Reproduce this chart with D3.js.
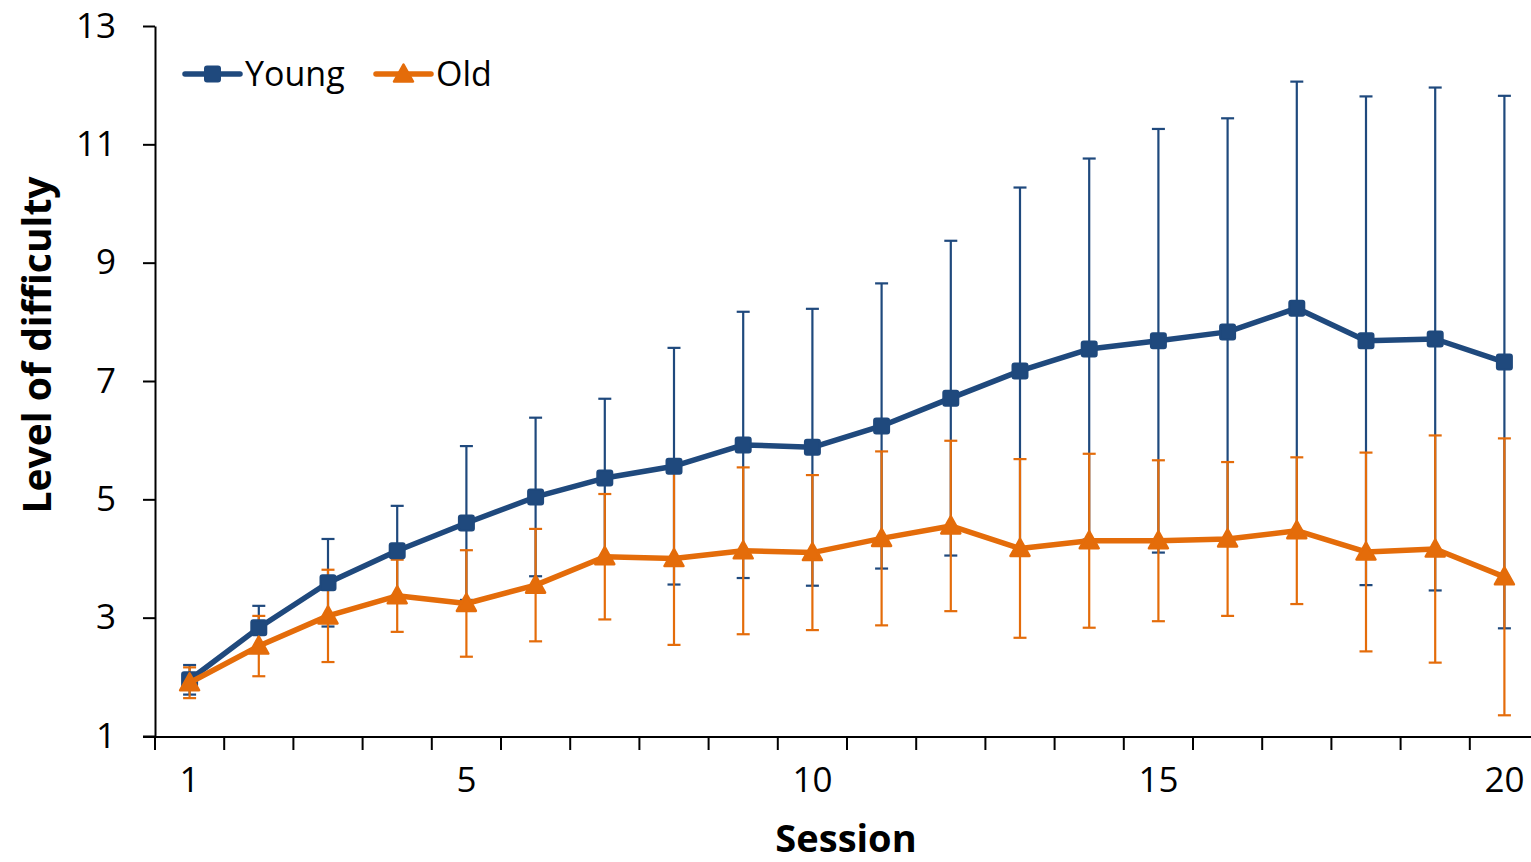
<!DOCTYPE html>
<html>
<head>
<meta charset="utf-8">
<script src="https://cdn.jsdelivr.net/npm/d3@7"></script>
<style>
  html, body { margin: 0; padding: 0; background: #ffffff; }
  svg { display: block; }
  text { font-family: "Open Sans", "Noto Sans", sans-serif; fill: #000; }
</style>
</head>
<body>
<svg id="chart" width="1531" height="862"></svg>
<script>
// ---- data ----
const sessions = d3.range(1, 21);
const shownTickLabels = [1, 5, 10, 15, 20];
const yTicks = [1, 3, 5, 7, 9, 11, 13];
const seriesNames = ["Young", "Old"];
const youngMean = [1.95, 2.83, 3.59, 4.13, 4.60, 5.04, 5.36, 5.56, 5.92, 5.88, 6.24, 6.71, 7.17, 7.54, 7.68, 7.83, 8.23, 7.68, 7.71, 7.32];
const youngErr  = [0.25, 0.37, 0.74, 0.76, 1.30, 1.34, 1.34, 2.00, 2.25, 2.34, 2.41, 2.66, 3.10, 3.22, 3.58, 3.61, 3.83, 4.13, 4.25, 4.50];
const oldMean   = [1.90, 2.52, 3.03, 3.37, 3.24, 3.55, 4.03, 4.00, 4.13, 4.10, 4.34, 4.55, 4.17, 4.30, 4.30, 4.33, 4.47, 4.11, 4.16, 3.69];
const oldErr    = [0.26, 0.51, 0.78, 0.61, 0.90, 0.95, 1.06, 1.46, 1.41, 1.31, 1.47, 1.44, 1.51, 1.47, 1.36, 1.30, 1.24, 1.68, 1.92, 2.34];

const BLUE = "#1f497d";
const ORANGE = "#e46c0a";

const svg = d3.select("#chart");

const x = d3.scaleBand().domain(sessions).range([155, 1539]).paddingInner(0).paddingOuter(0);
const y = d3.scaleLinear().domain([1, 13]).range([736, 26]);
const cx = d => x(d) + x.bandwidth() / 2;

const series = [
  { name: seriesNames[0], mean: youngMean, err: youngErr, color: BLUE, marker: "square" },
  { name: seriesNames[1], mean: oldMean, err: oldErr, color: ORANGE, marker: "triangle" }
];

// ---- axes ----
const yAxis = d3.axisLeft(y).tickValues(yTicks).tickSizeInner(12).tickSizeOuter(0).tickPadding(27);
const gy = svg.append("g").attr("transform", "translate(155,0)").call(yAxis);
gy.select(".domain").attr("stroke", "#000").attr("stroke-width", 2);
gy.selectAll(".tick line").attr("stroke", "#000").attr("stroke-width", 2);
gy.selectAll(".tick text").style("font-size", "35px").style("font-family", "'Open Sans', sans-serif");

const xAxis = d3.axisBottom(x).tickSizeInner(0).tickSizeOuter(0).tickPadding(30)
  .tickFormat(d => shownTickLabels.includes(d) ? String(d) : "");
const gx = svg.append("g").attr("transform", "translate(0,737)").call(xAxis);
gx.select(".domain").remove();
gx.selectAll(".tick line").remove();
gx.selectAll(".tick text").style("font-size", "35px").style("font-family", "'Open Sans', sans-serif");
svg.append("line").attr("x1", 143).attr("x2", 1531).attr("y1", 737).attr("y2", 737)
  .attr("stroke", "#000").attr("stroke-width", 2);
svg.append("g").selectAll("line").data(sessions.concat([null])).join("line")
  .attr("x1", d => d === null ? x(20) + x.bandwidth() : x(d))
  .attr("x2", d => d === null ? x(20) + x.bandwidth() : x(d))
  .attr("y1", 737).attr("y2", 750)
  .attr("stroke", "#000").attr("stroke-width", 2);

// axis titles
svg.append("text").attr("x", 846).attr("y", 852).attr("text-anchor", "middle")
  .style("font-size", "38px").style("font-weight", "bold").text("Session");
svg.append("text").attr("transform", "translate(51,345) rotate(-90)").attr("text-anchor", "middle")
  .style("font-size", "39px").style("font-weight", "bold").text("Level of difficulty");

// ---- error bars ----
const capHalf = 6.5;
series.forEach(s => {
  const g = svg.append("g").attr("stroke", s.color).attr("stroke-width", 2.2).attr("fill", "none");
  sessions.forEach((d, i) => {
    const hi = y(s.mean[i] + s.err[i]);
    const lo = y(s.mean[i] - s.err[i]);
    g.append("line").attr("x1", cx(d)).attr("x2", cx(d)).attr("y1", hi).attr("y2", lo);
    g.append("line").attr("x1", cx(d) - capHalf).attr("x2", cx(d) + capHalf).attr("y1", hi).attr("y2", hi);
    g.append("line").attr("x1", cx(d) - capHalf).attr("x2", cx(d) + capHalf).attr("y1", lo).attr("y2", lo);
  });
});

// ---- lines & markers ----
const triPath = "M0,-9.5 L9.5,7.5 L-9.5,7.5 Z";
function drawMarker(g, type, color, px, py) {
  if (type === "square") {
    g.append("rect").attr("x", px - 7.5).attr("y", py - 7.5).attr("width", 15).attr("height", 15)
      .attr("rx", 2).attr("fill", color).attr("stroke", color).attr("stroke-width", 2);
  } else {
    g.append("path").attr("d", triPath).attr("transform", `translate(${px},${py})`)
      .attr("fill", color).attr("stroke", color).attr("stroke-width", 2.5).attr("stroke-linejoin", "round");
  }
}
series.forEach(s => {
  const line = d3.line().x((v, i) => cx(sessions[i])).y(v => y(v));
  svg.append("path").datum(s.mean).attr("d", line).attr("fill", "none")
    .attr("stroke", s.color).attr("stroke-width", 5.5).attr("stroke-linejoin", "round");
  const g = svg.append("g");
  s.mean.forEach((v, i) => drawMarker(g, s.marker, s.color, cx(sessions[i]), y(v)));
});

// ---- legend ----
const legendItems = [
  { s: series[0], x0: 185, x1: 240, tx: 245 },
  { s: series[1], x0: 376, x1: 431, tx: 436 }
];
legendItems.forEach(it => {
  const g = svg.append("g");
  g.append("line").attr("x1", it.x0).attr("x2", it.x1).attr("y1", 74).attr("y2", 74)
    .attr("stroke", it.s.color).attr("stroke-width", 5.5).attr("stroke-linecap", "round");
  drawMarker(g, it.s.marker, it.s.color, (it.x0 + it.x1) / 2, 74);
  g.append("text").attr("x", it.tx).attr("y", 86).style("font-size", "34px").text(it.s.name);
});
</script>
</body>
</html>
